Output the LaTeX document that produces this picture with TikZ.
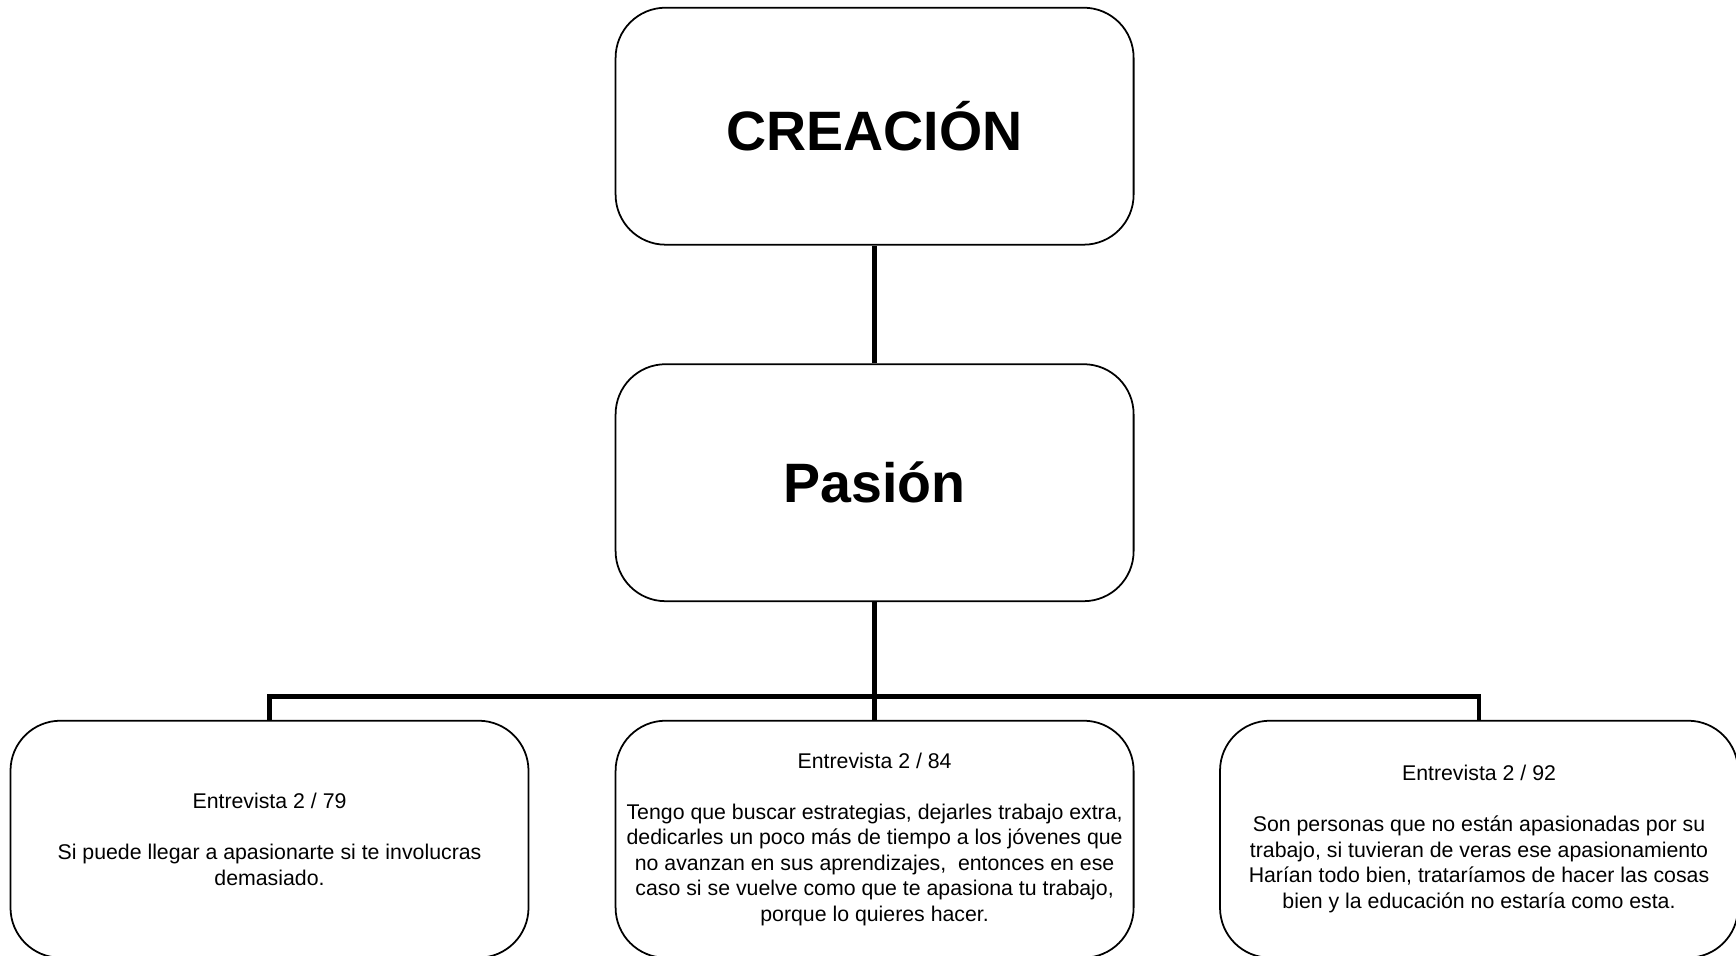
\documentclass[tikz,border=0pt]{standalone}
\usepackage{fontspec}
\setmainfont{Liberation Sans}
\usetikzlibrary{positioning}

\tikzset{
    caja/.style = {draw, line width = 0.5pt, rounded corners = 0.5cm,
        minimum width = 5.18cm, minimum height = 2.37cm, align = center, inner sep = 0pt},
    titulo/.style = {caja, font = \fontsize{15.8}{19}\selectfont\bfseries},
    cita/.style = {caja, font = \fontsize{6.06}{7.26}\selectfont},
    conn/.style = {line width = 1.25pt}
}

\begin{document}
\begin{tikzpicture}[x = 1cm, y = 1cm]
    \useasboundingbox (0,0) rectangle (17.36,9.55);
    \node[titulo] (creacion) at (8.746,8.288) {CREACIÓN};
    \node[titulo] (pasion) at (8.746,4.723) {Pasión};
    \node[cita] (e79) at (2.695,1.158) {Entrevista 2 / 79\\[7.26pt]
        Si puede llegar a apasionarte si te involucras\\demasiado.};
    \node[cita] (e84) at (8.746,1.158) {Entrevista 2 / 84\\[7.26pt]
        Tengo que buscar estrategias, dejarles trabajo extra,\\
        dedicarles un poco más de tiempo a los jóvenes que\\
        no avanzan en sus aprendizajes,\ \ entonces en ese\\
        caso si se vuelve como que te apasiona tu trabajo,\\
        porque lo quieres hacer.};
    \node[cita] (e92) at (14.79,1.158) {Entrevista 2 / 92\\[7.26pt]
        Son personas que no están apasionadas por su\\
        trabajo, si tuvieran de veras ese apasionamiento\\
        Harían todo bien, trataríamos de hacer las cosas\\
        bien y la educación no estaría como esta.};
    \coordinate (bar) at (8.746,2.586);
    \draw[conn] (creacion) -- (pasion);
    \draw[conn] (pasion) -- (e84);
    \draw[conn] (e79.north) |- (bar) -| (e92.north);
\end{tikzpicture}
\end{document}
